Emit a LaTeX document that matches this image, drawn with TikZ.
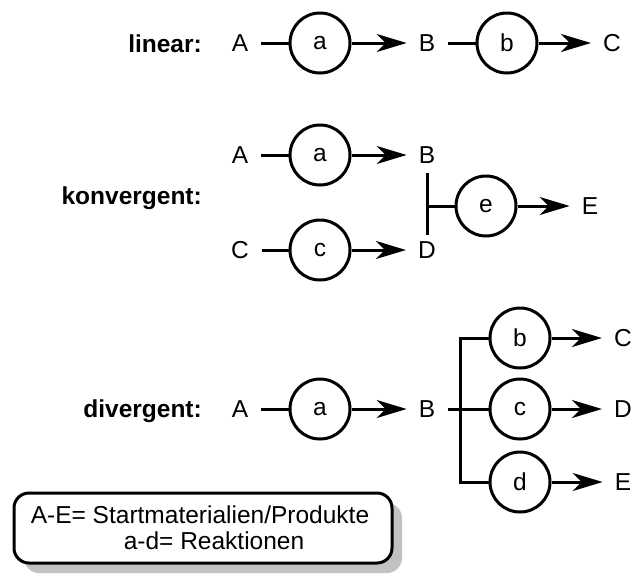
\documentclass[tikz,border=0pt]{standalone}
\usepackage{fontspec}
\setmainfont{Liberation Sans}
\usetikzlibrary{arrows.meta,shadows}
\begin{document}
\begin{tikzpicture}[x=1pt,y=-1pt,
  every node/.style={font=\fontsize{24.5}{28}\selectfont},
  lett/.style={inner sep=0pt},
  rxn/.style={circle,draw,line width=3pt,minimum size=60pt,inner sep=0pt},
  lbl/.style={inner sep=0pt,anchor=base east,font=\fontsize{24.5}{28}\selectfont\bfseries},
  ln/.style={line width=3pt,shorten <=13pt},
  arr/.style={line width=3pt,-{Stealth[length=30pt,width=18pt,inset=9pt]},shorten >=12pt},
  br/.style={line width=3pt},
  legendbox/.style={draw,line width=3pt,rounded corners=15pt,fill=white,minimum width=378pt,minimum height=70pt,
     drop shadow={shadow xshift=10pt,shadow yshift=-10pt,fill=black!24,opacity=1}}
]
\useasboundingbox (0,0) rectangle (634,574);
% linear
\node[lbl] (llin) at (202,52) {linear:};
\node[lett] (lA) at (240,43) {A};
\node[rxn] (la) at (320,43) {a};
\node[lett] (lB) at (427,43) {B};
\node[rxn] (lb) at (507,43) {b};
\node[lett] (lC) at (612,43) {C};
\draw[ln] (lA.east) -- (la.west);
\draw[arr] (la.east) -- (lB.west);
\draw[ln] (lB.east) -- (lb.west);
\draw[arr] (lb.east) -- (lC.west);
% konvergent
\node[lbl] (lkon) at (202,204) {konvergent:};
\node[lett] (kA) at (240,155) {A};
\node[rxn] (ka) at (320,155) {a};
\node[lett] (kB) at (427,155) {B};
\node[lett] (kC) at (240,250) {C};
\node[rxn] (kc) at (320,250) {c};
\node[lett] (kD) at (427,250) {D};
\coordinate (kt) at (427,173);
\coordinate (kb) at (427,235);
\coordinate (km) at (427,206);
\node[rxn] (ke) at (486,206) {e};
\node[lett] (kE) at (590,206) {E};
\draw[ln] (kA.east) -- (ka.west);
\draw[arr] (ka.east) -- (kB.west);
\draw[ln] (kC.east) -- (kc.west);
\draw[arr] (kc.east) -- (kD.west);
\draw[br] (kt) -- (kb);
\draw[br] (km) -- (ke.west);
\draw[arr] (ke.east) -- (kE.west);
% divergent
\node[lbl] (ldiv) at (202,417) {divergent:};
\node[lett] (dA) at (240,409) {A};
\node[rxn] (da) at (320,409) {a};
\node[lett] (dB) at (427,409) {B};
\node[rxn] (db) at (520,338) {b};
\node[rxn] (dc) at (520,409) {c};
\node[rxn] (dd) at (520,482) {d};
\node[lett] (dC) at (623,338) {C};
\node[lett] (dD) at (623,409) {D};
\node[lett] (dE) at (623,482) {E};
\coordinate (dj) at (460,409);
\draw[ln] (dA.east) -- (da.west);
\draw[arr] (da.east) -- (dB.west);
\draw[ln] (dB.east) -- (dc.west);
\draw[br] (db.west) -| (dj) |- (dd.west);
\draw[arr] (db.east) -- (dC.west);
\draw[arr] (dc.east) -- (dD.west);
\draw[arr] (dd.east) -- (dE.west);
% legend
\node[legendbox] (leg) at (203,528) {};
\node[lett] (leg1) at (200,515) {A-E= Startmaterialien/Produkte};
\node[lett] (leg2) at (214,541) {a-d= Reaktionen};
\end{tikzpicture}
\end{document}
